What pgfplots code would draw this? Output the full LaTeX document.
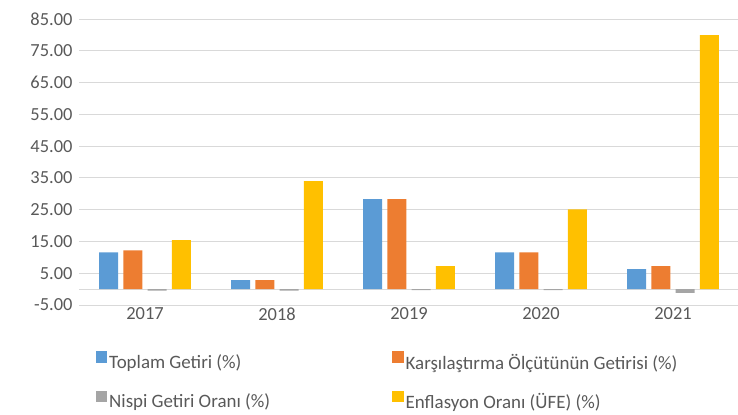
\documentclass[border=0pt]{standalone}
\usepackage{pgfplots}
\pgfplotsset{compat=1.18}
\usepackage{fontspec}
\setmainfont{Carlito}
\definecolor{cBlue}{HTML}{5B9BD5}
\definecolor{cOrange}{HTML}{ED7D31}
\definecolor{cGrey}{HTML}{A5A5A5}
\definecolor{cYellow}{HTML}{FFC000}
\definecolor{cText}{HTML}{595959}
\definecolor{cGrid}{HTML}{D9D9D9}
\begin{document}
\begin{tikzpicture}[x=1bp,y=1bp]
\path[use as bounding box] (0,0) rectangle (738,414);
\begin{axis}[
  at={(79bp,109bp)}, anchor=south west,
  scale only axis, width=660bp, height=286bp,
  xmin=-0.5, xmax=4.5, ymin=-5, ymax=85,
  ybar=5.3bp, bar width=19bp,
  xtick={0,1,2,3,4}, xticklabels={2017,2018,2019,2020,2021},
  ytick={-5,5,15,25,35,45,55,65,75,85},
  yticklabel style={/pgf/number format/fixed, /pgf/number format/fixed zerofill, /pgf/number format/precision=2, /pgf/number format/assume math mode=true, xshift=-3bp},
  tick style={draw=none},
  axis line style={draw=none},
  ymajorgrids, major grid style={cGrid, line width=1bp},
  extra y ticks={0}, extra y tick labels={},
  extra y tick style={grid=major, major grid style={cGrid, line width=1bp}},
  ticklabel style={font=\fontsize{18.5}{21}\selectfont, text=cText},
  xticklabel style={yshift=5bp},
  clip=false,
  legend columns=2,
  legend cell align=left,
  legend style={at={(0.0205,-0.154)}, anchor=north west, draw=none, fill=none,
    font=\fontsize{19}{22}\selectfont, text=cText,
    row sep=18bp,
    /tikz/every even column/.append style={column sep=120bp}},
  legend image code/.code={\fill[#1] (0bp,-0.5bp) rectangle (11.5bp,11bp);},
]
\addplot[fill=cBlue, draw=none] coordinates {(0,11.6) (1,2.8) (2,28.3) (3,11.6) (4,6.3)};
\addplot[fill=cOrange, draw=none] coordinates {(0,12.2) (1,2.8) (2,28.3) (3,11.6) (4,7.2)};
\addplot[fill=cGrey, draw=none] coordinates {(0,-0.5) (1,-0.5) (2,-0.3) (3,-0.3) (4,-1.2)};
\addplot[fill=cYellow, draw=none] coordinates {(0,15.4) (1,34.0) (2,7.2) (3,25.1) (4,79.9)};
\legend{Toplam Getiri (\%), Karşılaştırma Ölçütünün Getirisi (\%), Nispi Getiri Oranı (\%), Enflasyon Oranı (ÜFE) (\%)}
\end{axis}
\end{tikzpicture}
\end{document}
